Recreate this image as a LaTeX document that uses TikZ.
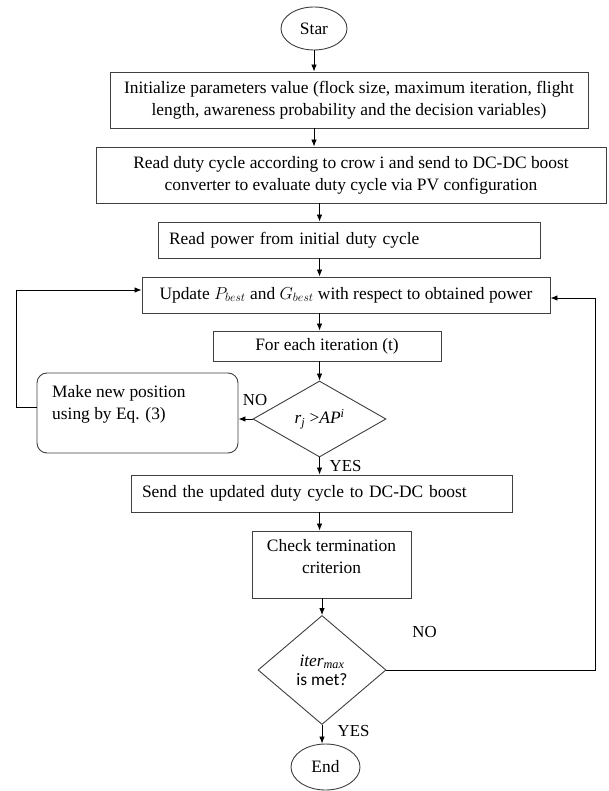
\documentclass[tikz,border=0pt]{standalone}
\usepackage{fontspec}
\setmainfont{Liberation Serif}
\setsansfont{Carlito}
\usetikzlibrary{shapes.geometric,arrows.meta,calc}
\begin{document}
\begin{tikzpicture}[x=1pt,y=-1pt,
  every node/.style={font=\fontsize{17.4}{22}\selectfont, text=black},
  box/.style={draw=black!75, line width=0.9pt, rectangle, inner sep=0pt},
  rbox/.style={box, rounded corners=10pt},
  dec/.style={diamond, draw=black!75, line width=0.9pt, inner sep=0pt},
  term/.style={ellipse, draw=black!75, line width=0.9pt, inner sep=0pt},
  lab/.style={font=\fontsize{16.8}{20}\selectfont, inner sep=0pt},
  arr/.style={draw=black, line width=0.8pt, -{Latex[length=7pt,width=5.5pt]}}]
\useasboundingbox (0,0) rectangle (608,791);
\fill[white] (0,0) rectangle (608,791);

\node[term, minimum width=66pt, minimum height=43pt] (star) at (314,28.5) {Star};
\node[box, minimum width=478pt, minimum height=56pt, align=center] (b1) at (349,100)
  {Initialize parameters value (flock size, maximum iteration, flight\\length, awareness probability and the decision variables)};
\node[box, minimum width=510pt, minimum height=56pt, align=center] (b2) at (351,175)
  {Read duty cycle according to crow i and send to DC-DC boost\\converter to evaluate duty cycle via PV configuration};
\node[box, minimum width=382pt, minimum height=36pt, text width=360pt, align=left] (b3) at (349,240)
  {Read power from initial duty cycle};
\node[box, minimum width=408pt, minimum height=36pt] (b4) at (346,295)
  {Update $P_{best}$ and $G_{best}$ with respect to obtained power};
\node[box, minimum width=228pt, minimum height=30pt] (b5) at (327,346)
  {For each iteration (t)};
\node[dec, minimum width=133pt, minimum height=76pt, shape aspect=1.75] (d1) at (319.5,419)
  {\raisebox{4pt}{\textit{r}\textsubscript{\textit{j}} \textgreater\textit{AP}\textsuperscript{\textit{i}}}};
\node[rbox, minimum width=201pt, minimum height=80pt] (b6) at (137.5,413) {};
\node[anchor=north west, align=left, inner sep=0pt] (b6t) at (52,385)
  {Make new position\\using by Eq. (3)};
\node[box, minimum width=381pt, minimum height=37pt, text width=359pt, align=left] (b7) at (321.5,493.5)
  {Send the updated duty cycle to DC-DC boost};
\node[box, minimum width=159pt, minimum height=67pt] (b8) at (331.5,564.5) {};
\node[anchor=north, align=center, inner sep=0pt] (b8t) at (331.5,539)
  {Check termination\\criterion};
\node[dec, minimum width=128pt, minimum height=109pt, shape aspect=1.17, align=center] (d2) at (322,670)
  {$\mathit{iter}_{\mathit{max}}$\\[-3pt]{\sffamily is met?}};
\node[term, minimum width=69pt, minimum height=46pt] (end) at (325.5,767) {End};

\node[lab] (no1) at (255,400) {NO};
\node[lab] (yes1) at (345.5,466) {YES};
\node[lab] (no2) at (424.5,632) {NO};
\node[lab] (yes2) at (353.5,731) {YES};

\draw[arr] (star) -- (star |- b1.north);
\draw[arr] (b1.south -| star) -- (b2.north -| star);
\draw[arr] (b2.south -| d1) -- (b3.north -| d1);
\draw[arr] (b3.south -| d1) -- (b4.north -| d1);
\draw[arr] (b4.south -| d1) -- (b5.north -| d1);
\draw[arr] (b5.south -| d1) -- (d1.north);
\draw[arr] (d1.south) -- (d1.south |- b7.north);
\draw[arr] (b7.south -| d1) -- (b8.north -| d1);
\draw[arr] (b8.south -| d2) -- (d2.north);
\draw[arr] (d2.south) -- (d2.south |- end.north);
\draw[arr] (d1.west) -- (d1.west -| b6.east);
\draw[arr] ([yshift=6pt]b6.west) -- ++(-20,0) |- ([yshift=5pt]b4.west);
\draw[arr] (d2.east) -- ++(209,0) |- ([yshift=-3pt]b4.east);
\end{tikzpicture}
\end{document}
